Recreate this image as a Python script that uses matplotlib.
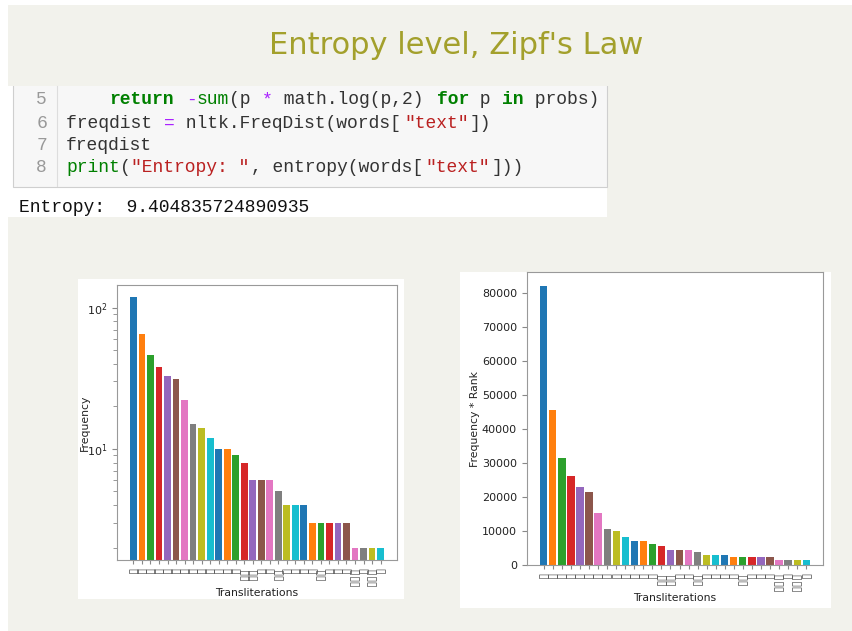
import matplotlib
matplotlib.use("Agg")
import matplotlib.pyplot as plt
from matplotlib.patches import Rectangle
from matplotlib import font_manager

# values (30 most frequent transliterations)
frequency = [118, 65, 46, 38, 33, 31, 22, 15, 14, 12, 10, 10, 9, 8, 6,
             6, 6, 5, 4, 4, 4, 3, 3, 3, 3, 3, 2, 2, 2, 2]
freq_rank = [81900, 45500, 31450, 26100, 22800, 21400, 15250, 10450, 9880, 8300,
             6940, 6940, 6250, 5570, 4400, 4400, 4400, 3720, 2840, 2840,
             2840, 2250, 2250, 2250, 2250, 2250, 1560, 1560, 1560, 1560]
# labels were rendered as missing-glyph boxes in the original
translits = ["▯", "▯", "▯", "▯", "▯", "▯", "▯", "▯", "▯", "▯",
             "▯", "▯", "▯", "▯▯", "▯▯", "▯", "▯", "▯▯", "▯", "▯",
             "▯", "▯", "▯▯", "▯", "▯", "▯", "▯▯▯", "▯", "▯▯▯", "▯"]

code_lines = [
    (5, [("    ", "t"), ("return", "kw"), (" ", "t"), ("-", "op"), ("sum", "bi"),
         ("(p ", "t"), ("*", "op"), (" math.log(p,2) ", "t"), ("for", "kw"),
         (" p ", "t"), ("in", "kw"), (" probs)", "t")]),
    (6, [("freqdist ", "t"), ("=", "op"), (" nltk.FreqDist(words[", "t"),
         ('"text"', "str"), ("])", "t")]),
    (7, [("freqdist", "t")]),
    (8, [("print", "bi"), ("(", "t"), ('"Entropy: "', "str"), (", entropy(words[", "t"),
         ('"text"', "str"), ("]))", "t")]),
]
output_line = "Entropy:  9.404835724890935"

W, H = 852, 631
SLIDE_BG = "#f2f2ec"
styles = {"t": ("#333333", "normal"), "kw": ("#008000", "bold"), "bi": ("#008000", "normal"),
          "op": ("#aa22ff", "normal"), "str": ("#ba2121", "normal")}


def box(x0, y0, x1, y1):
    return [x0 / W, 1 - y1 / H, (x1 - x0) / W, (y1 - y0) / H]


def fig_rect(fig, x0, y0, x1, y1, **kw):
    fig.patches.append(Rectangle((x0 / W, 1 - y1 / H), (x1 - x0) / W, (y1 - y0) / H,
                                 transform=fig.transFigure, zorder=-2, **kw))


try:
    font_manager.findfont("Liberation Sans Narrow", fallback_to_default=False)
    title_font, title_size = "Liberation Sans Narrow", 29
except ValueError:
    title_font, title_size = "DejaVu Sans", 22

fig = plt.figure(figsize=(W / 100, H / 100), dpi=100, facecolor="white")

# slide background and code panel
fig_rect(fig, 8, 5, W, H, facecolor=SLIDE_BG, edgecolor="none")
fig_rect(fig, 8, 86, 607, 217, facecolor="white", edgecolor="none")
fig_rect(fig, 12.7, 78, 607, 186.5, facecolor="#f7f7f7", edgecolor="#cfcfcf", linewidth=0.8)
fig_rect(fig, 8, 70, 620, 86, facecolor=SLIDE_BG, edgecolor="none")
fig.add_artist(plt.Line2D([57 / W, 57 / W], [1 - 86 / H, 1 - 186 / H], color="#dddddd", lw=0.8))

fig.text(456 / W, 1 - 45 / H, "Entropy level, Zipf's Law", ha="center", va="center",
         color="#a3a02c", fontsize=title_size, family=title_font)

CW = 10.9
line_y = {5: 100, 6: 123, 7: 145.5, 8: 168}
for num, tokens in code_lines:
    y = 1 - line_y[num] / H
    fig.text(47 / W, y, str(num), ha="right", va="center", color="#999999",
             fontsize=13, family="Liberation Mono")
    col = 0
    for tok, kind in tokens:
        color, weight = styles[kind]
        fig.text((66 + col * CW) / W, y, tok, ha="left", va="center", color=color,
                 fontweight=weight, fontsize=13, family="Liberation Mono")
        col += len(tok)
fig.text(19 / W, 1 - 208 / H, output_line, ha="left", va="center", color="#111111",
         fontsize=13, family="Liberation Mono")

# chart panels
fig_rect(fig, 78.3, 279, 404.3, 599.3, facecolor="white", edgecolor="none")
fig_rect(fig, 460, 271.7, 831, 608.3, facecolor="white", edgecolor="none")

colors = plt.rcParams["axes.prop_cycle"].by_key()["color"]
bar_colors = [colors[i % len(colors)] for i in range(len(frequency))]
pos = list(range(len(frequency)))

ax1 = fig.add_axes(box(117.3, 285, 396.7, 560))
ax1.set_yscale("log")
ax1.bar(pos, frequency, color=bar_colors)
ax1.set_ylabel("Frequency", fontsize=7.8, labelpad=-2)

ax2 = fig.add_axes(box(526.7, 272.3, 823.3, 565))
ax2.bar(pos, freq_rank, color=bar_colors)
ax2.set_ylabel("Frequency * Rank", fontsize=7.8, labelpad=1)

for ax in (ax1, ax2):
    ax.set_xticks(pos)
    ax.set_xticklabels(translits, rotation=90, fontsize=8.5)
    ax.set_xlabel("Transliterations", fontsize=7.8, labelpad=1)
    ax.tick_params(colors="#888888", which="both", length=3)
    ax.tick_params(axis="y", which="major", length=3.5)
    ax.tick_params(axis="y", labelsize=8, labelcolor="#222222")
    ax.tick_params(axis="x", labelcolor="#555555", pad=2)
    for s in ax.spines.values():
        s.set_color("#999999")
        s.set_linewidth(0.8)
    ax.yaxis.label.set_color("#222222")
    ax.xaxis.label.set_color("#222222")

fig.savefig("out.png", dpi=100, facecolor="white")
